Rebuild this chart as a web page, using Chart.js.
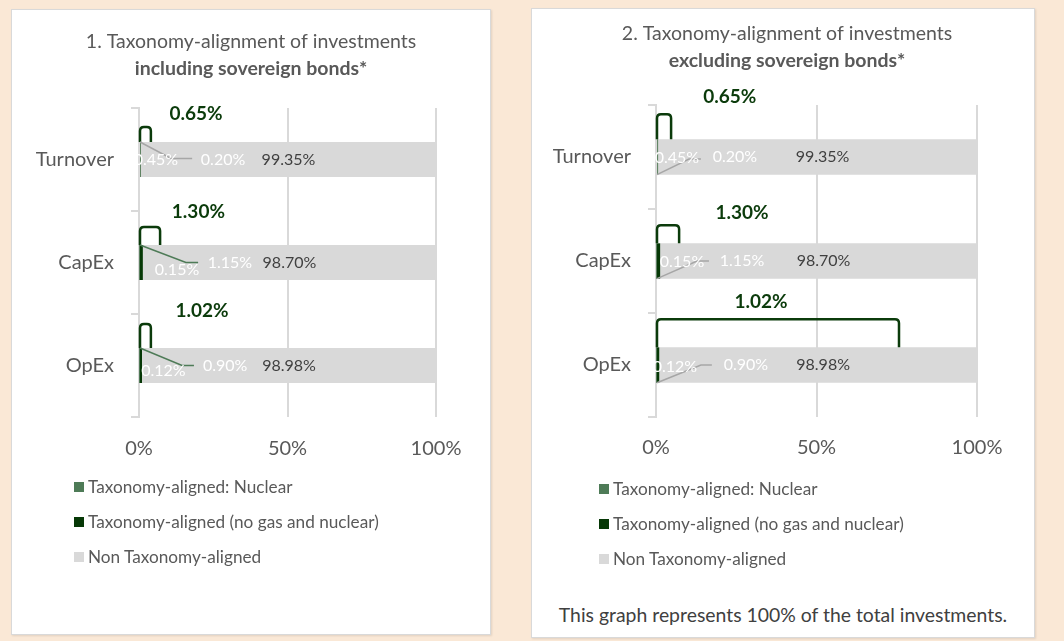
<!DOCTYPE html>
<html>
<head>
<meta charset="utf-8">
<script src="https://cdn.jsdelivr.net/npm/chart.js@4.4.1/dist/chart.umd.min.js"></script>
<style>
  body { margin: 0; width: 1064px; height: 641px; background: #fae8d6; position: relative; overflow: hidden; font-family: Lato, sans-serif; }
  .panel { position: absolute; background: #fff; border: 1px solid #d9d9d9; box-sizing: border-box; box-shadow: 1px 1px 2px rgba(0,0,0,0.10); }
  canvas { position: absolute; }
  .legend { position: absolute; color: #595959; font-size: 17.2px; }
  .legend .row { height: 35px; display: flex; align-items: center; }
  .legend .sw { width: 10px; height: 10px; margin-right: 4px; }
  .note { position: absolute; left: 531px; width: 504px; top: 603px; text-align: center; color: #404040; font-size: 19.4px; }
</style>
</head>
<body>
<div class="panel" style="left:11px;top:9px;width:480px;height:626px"></div>
<div class="panel" style="left:531px;top:8px;width:504px;height:630px"></div>
<canvas id="one" width="480" height="470" style="left:11px;top:9px"></canvas>
<canvas id="two" width="504" height="470" style="left:531px;top:8px"></canvas>
<div class="legend" id="leg1" style="left:74px;top:469px"></div>
<div class="legend" id="leg2" style="left:599px;top:471px"></div>
<div class="note">This graph represents 100% of the total investments.</div>

<script>
// categories and values (in %)
const categories = ['Turnover', 'CapEx', 'OpEx'];
const seriesNames = ['Taxonomy-aligned: Nuclear', 'Taxonomy-aligned (no gas and nuclear)', 'Non Taxonomy-aligned'];
const xTicks = [0, 50, 100];

// chart 1: including sovereign bonds
const nuclearIncl = [0.45, 0.15, 0.12];
const alignedIncl = [0.20, 1.15, 0.90];
const nonAlignedIncl = [99.35, 98.70, 98.98];
const totalIncl = [0.65, 1.30, 1.02];

// chart 2: excluding sovereign bonds
const nuclearExcl = [0.45, 0.15, 0.12];
const alignedExcl = [0.20, 1.15, 0.90];
const nonAlignedExcl = [99.35, 98.70, 98.98];
const totalExcl = [0.65, 1.30, 1.02];

const colors = ['#4e7b57', '#063806', '#d9d9d9'];
const darkGreen = '#0b3b0b';
const FONT = 'Lato, sans-serif';

// placement of the callouts (label x in axis %, offsets in px)
const calloutsIncl = {
  nucX: [5.7, 12.8, 8.2], nucDy: [0, 7, 5],
  alX: [28.3, 30.6, 29],
  nonDx: 0,
  totX: [19.2, 20, 21.2], totDy: [-46, -51, -55],
  bracketEnd: [4, 7.1, 4], bracketRise: [15, 18, 24],
  leaders: [
    { fromBottom: false, bend: 10.8, end: 17.9, dy: -1, color: '#a6a6a6' },
    { fromBottom: false, bend: 15.8, end: 19.9, dy: 0, color: '#4e7b57' },
    { fromBottom: false, bend: 14.5, end: 18.5, dy: 0, color: '#4e7b57' }
  ]
};
const calloutsExcl = {
  nucX: [6.5, 8.1, 5.9], nucDy: [1, 1, 2],
  alX: [24.6, 26.8, 28],
  nonDx: 5,
  totX: [23, 26.8, 32.7], totDy: [-60, -48, -63],
  bracketEnd: [4.7, 7.2, 75.7], bracketRise: [25, 18, 28],
  leaders: [
    { fromBottom: true, bend: 10.3, end: 14, dy: 2, color: '#a6a6a6' },
    { fromBottom: true, bend: 12.8, end: 16.5, dy: 0, color: '#a6a6a6' },
    { fromBottom: true, bend: 14, end: 17.4, dy: 0, color: '#a6a6a6' }
  ]
};

const pct = v => v.toFixed(2) + '%';

const calloutPlugin = {
  id: 'callouts',
  afterDatasetsDraw(chart, args, opts) {
    const ctx = chart.ctx;
    const xs = chart.scales.x;
    const lay = opts.lay;
    const ds = chart.data.datasets;
    const bars = chart.getDatasetMeta(2).data;
    const x0 = xs.getPixelForValue(0) + 1;
    ctx.save();
    bars.forEach((bar, i) => {
      const top = bar.y - bar.height / 2;
      const bottom = bar.y + bar.height / 2;
      // bracket over the aligned part
      const x1 = xs.getPixelForValue(lay.bracketEnd[i]);
      const h = top - lay.bracketRise[i];
      const r = 4;
      ctx.beginPath();
      ctx.moveTo(x0, top);
      ctx.lineTo(x0, h + r);
      ctx.quadraticCurveTo(x0, h, x0 + r, h);
      ctx.lineTo(x1 - r, h);
      ctx.quadraticCurveTo(x1, h, x1, h + r);
      ctx.lineTo(x1, top);
      ctx.strokeStyle = darkGreen;
      ctx.lineWidth = 2.5;
      ctx.stroke();
      // leader line
      const L = lay.leaders[i];
      ctx.beginPath();
      ctx.moveTo(x0, L.fromBottom ? bottom : top);
      ctx.lineTo(xs.getPixelForValue(L.bend), bar.y + L.dy);
      ctx.lineTo(xs.getPixelForValue(L.end), bar.y + L.dy);
      ctx.strokeStyle = L.color;
      ctx.lineWidth = 1.5;
      ctx.stroke();
      // labels
      ctx.textAlign = 'center';
      ctx.textBaseline = 'middle';
      ctx.font = '16px ' + FONT;
      ctx.fillStyle = '#ffffff';
      ctx.fillText(pct(ds[0].data[i]), xs.getPixelForValue(lay.nucX[i]), bar.y + lay.nucDy[i]);
      ctx.fillText(pct(ds[1].data[i]), xs.getPixelForValue(lay.alX[i]), bar.y);
      const start = ds[0].data[i] + ds[1].data[i];
      ctx.fillStyle = '#404040';
      ctx.fillText(pct(ds[2].data[i]), xs.getPixelForValue(start + ds[2].data[i] / 2) + lay.nonDx, bar.y);
      ctx.font = 'bold 19px ' + FONT;
      ctx.fillStyle = darkGreen;
      ctx.fillText(pct(opts.totals[i]), xs.getPixelForValue(lay.totX[i]), bar.y + lay.totDy[i]);
    });
    ctx.restore();
  }
};

function makeChart(el, legendEl, title, subtitle, nuc, al, non, tot, lay, box) {
  const chart = new Chart(el, {
    type: 'bar',
    data: {
      labels: categories,
      datasets: [nuc, al, non].map((d, k) => ({
        label: seriesNames[k],
        data: d,
        backgroundColor: colors[k],
        barPercentage: 0.34,
        categoryPercentage: 1
      }))
    },
    options: {
      indexAxis: 'y',
      responsive: false,
      animation: false,
      layout: { padding: { left: box.padLeft, right: 0, top: 0, bottom: 0 } },
      scales: {
        x: {
          type: 'linear', stacked: true, min: 0, max: 100,
          afterBuildTicks: s => { s.ticks = xTicks.map(v => ({ value: v })); },
          ticks: { callback: v => v + '%', color: '#595959', font: { family: FONT, size: 20 }, padding: box.tickPad },
          grid: { color: '#d9d9d9', lineWidth: 2, drawTicks: false },
          border: { display: false },
          afterFit: s => { s.height = box.xHeight; }
        },
        y: {
          stacked: true,
          grid: { offset: true, drawOnChartArea: false, drawTicks: true, tickLength: 8, color: '#d9d9d9', lineWidth: 2 },
          border: { display: true, color: '#d9d9d9', width: 2 },
          ticks: { color: '#595959', font: { family: FONT, size: 20 }, padding: 17 },
          afterFit: s => { s.width = box.left - box.padLeft; }
        },
        // empty right-hand axis that only keeps the white margin right of the plot
        gap: {
          axis: 'y', position: 'right',
          grid: { display: false }, border: { display: false }, ticks: { display: false },
          afterFit: s => { s.width = box.right; }
        }
      },
      plugins: {
        legend: { display: false },
        tooltip: { enabled: false },
        title: {
          display: true, text: title, color: '#595959',
          font: { family: FONT, size: 19.5, weight: 'normal' },
          padding: { top: box.t1, bottom: 0 }
        },
        subtitle: {
          display: true, text: subtitle, color: '#595959',
          font: { family: FONT, size: 19.5, weight: 'bold' },
          padding: { top: box.t2, bottom: box.t3 }
        },
        callouts: { lay: lay, totals: tot }
      }
    },
    plugins: [calloutPlugin]
  });
  // html legend from the datasets
  chart.data.datasets.forEach(d => {
    const row = document.createElement('div');
    row.className = 'row';
    row.innerHTML = '<span class="sw" style="background:' + d.backgroundColor + '"></span>' + d.label;
    legendEl.appendChild(row);
  });
  return chart;
}

makeChart(document.getElementById('one'), document.getElementById('leg1'),
  '1. Taxonomy-alignment of investments', 'including sovereign bonds*',
  nuclearIncl, alignedIncl, nonAlignedIncl, totalIncl, calloutsIncl,
  { padLeft: 0, left: 128, right: 55, xHeight: 62, tickPad: 19.8, t1: 21.3, t2: 3.4, t3: 27.5 });

makeChart(document.getElementById('two'), document.getElementById('leg2'),
  '2. Taxonomy-alignment of investments', 'excluding sovereign bonds*',
  nuclearExcl, alignedExcl, nonAlignedExcl, totalExcl, calloutsExcl,
  { padLeft: 8, left: 125, right: 58, xHeight: 61, tickPad: 18.8, t1: 14.3, t2: 3.6, t3: 32.3 });
</script>
</body>
</html>
